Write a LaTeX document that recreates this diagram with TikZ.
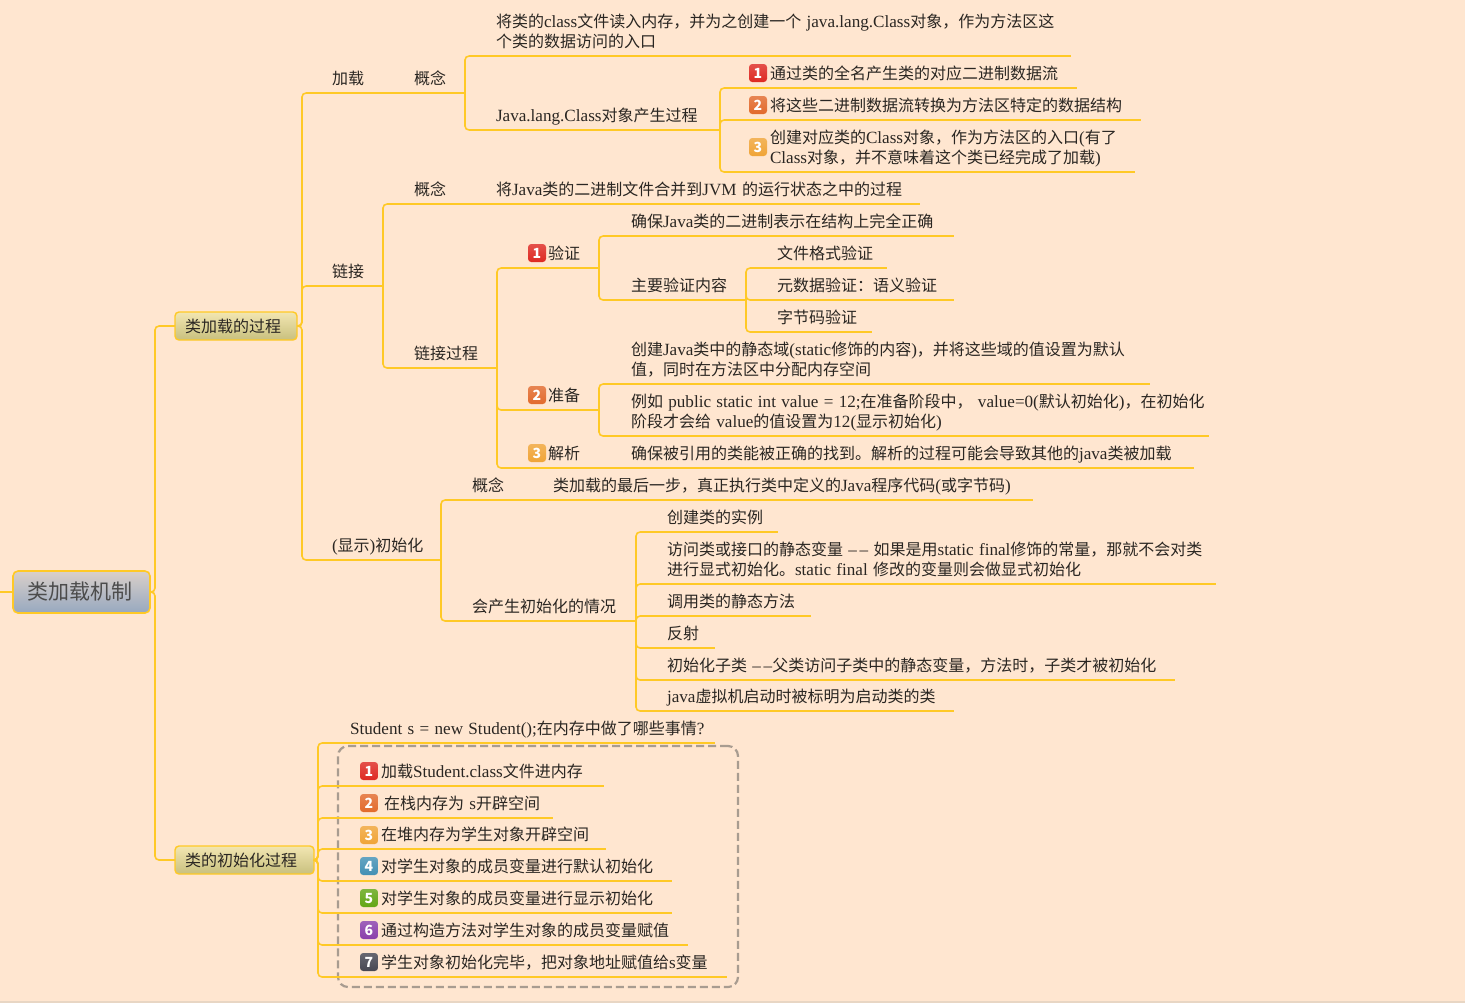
\documentclass[tikz,border=0pt]{standalone}
\usepackage{fontspec}
\setmainfont{Noto Sans CJK SC}
\newfontfamily\latinface[Scale=1.07]{Liberation Serif}
\newcommand{\lat}[1]{{\latinface #1}}
\definecolor{pagebg}{HTML}{FFE6D0}
\definecolor{pageedge}{HTML}{E8D6C4}
\definecolor{linkc}{HTML}{FFC926}
\definecolor{inkc}{HTML}{2A2622}
\definecolor{rootC}{HTML}{DAD0CA}
\definecolor{rootD}{HTML}{97A8BF}
\definecolor{branchtop}{HTML}{F2E6B2}
\definecolor{branchbot}{HTML}{C8C07E}
\definecolor{groupc}{HTML}{A89C90}
\definecolor{bda}{HTML}{DE2A22}
\definecolor{bdb}{HTML}{E26A2C}
\definecolor{bdc}{HTML}{F0A437}
\definecolor{bdd}{HTML}{4390B4}
\definecolor{bde}{HTML}{62A615}
\definecolor{bdf}{HTML}{8A3FAB}
\definecolor{bdg}{HTML}{474752}

\tikzset{
  link/.style={draw=linkc,line width=0.8pt,rounded corners=2pt},
  topic/.style={anchor=south west,inner sep=0pt,outer sep=0pt,align=left,text depth=4.3pt,text=inkc,
    font=\fontsize{8}{10.1}\selectfont},
  twoline/.style={text depth=14.4pt},
  branch/.style={draw=linkc,line width=0.7pt,rounded corners=2pt,top color=branchtop,bottom color=branchbot,
    anchor=west,outer sep=0pt,minimum height=14pt,inner sep=0pt,text=inkc,font=\fontsize{8}{10}\selectfont},
  badge/.style={rounded corners=1.6pt,minimum size=9pt,inner sep=0pt,text=white,
    top color=#1!82!white,bottom color=#1,font=\fontsize{7}{7}\selectfont\bfseries},
  groupbox/.style={draw=groupc,line width=1.1pt,dash pattern=on 4pt off 2pt,rounded corners=5pt,outer sep=0pt}
}

% underlined topic: name, left x, right x, line y, text x, text
\newcommand{\topicnode}[7][]{%
  \pgfmathsetmacro\topicw{(#4-#3)/2}\pgfmathsetmacro\topicp{(#6-#3)/2}%
  \node[topic,#1,text width=\topicw pt] (#2) at (#3,#5) {\leftskip=\topicp pt\relax\rightskip=-40pt plus 1fil\relax #7\par};
  \draw[link] (#2.south west) -- (#2.south east);}
% numbered square: name, left x, centre y, number, colour
\newcommand{\badgenode}[5]{\node[badge=#5] (#1) at (#2+9,#3) {#4};}

\begin{document}
\begin{tikzpicture}[x=0.5pt,y=-0.5pt]
  \fill[pagebg] (0,0) rectangle (1465,1003);
  \fill[pageedge] (0,1001) rectangle (1465,1003);
  \useasboundingbox (0,0) rectangle (1465,1003);

  % root and its two branches
  \node[draw=linkc,line width=0.8pt,rounded corners=2.5pt,top color=rootC,bottom color=rootD,outer sep=0pt,minimum width=68.5pt,minimum height=21pt,inner sep=0pt,text=black!70,font=\fontsize{10.5}{12}\selectfont] (root) at (81.5,592) {类加载机制\hspace*{2pt}};
  \coordinate (rootin) at (0,592);
  \node[branch,text width=61pt,align=left] (process) at (175,326) {\hspace*{5pt}类加载的过程};
  \node[branch,text width=69.5pt,align=left] (initproc) at (175,860) {\hspace*{5pt}类的初始化过程};
  \draw[link] (rootin) -- (root);
  \draw[link] (root.east) -- ++(5,0) |- (process.west);
  \draw[link] (root.east) -- ++(5,0) |- (initproc.west);

  % loading
  \topicnode{load}{306}{383}{93}{332}{加载}
  \topicnode{loadidea}{384}{465}{93}{414}{概念}
  \topicnode[twoline]{loaddesc}{469}{1071}{56}{496}{将类的\lat{class}文件读入内存，并为之创建一个 \lat{java.lang.Class}对象，作为方法区这\\个类的数据访问的入口}
  \topicnode{loadstep}{469}{720}{130}{496}{\lat{Java.lang.Class}对象产生过程}
  \topicnode{stepa}{724}{1077}{88}{770}{通过类的全名产生类的对应二进制数据流}
  \topicnode{stepb}{724}{1141}{120}{770}{将这些二进制数据流转换为方法区特定的数据结构}
  \topicnode[twoline]{stepc}{724}{1135}{172}{770}{创建对应类的\lat{Class}对象，作为方法区的入口\lat{(}有了\\\lat{Class}对象，并不意味着这个类已经完成了加载\lat{)}}
  \badgenode{bstepa}{749}{73}{1}{bda}
  \badgenode{bstepb}{749}{105}{2}{bdb}
  \badgenode{bstepc}{749}{147}{3}{bdc}
  \draw[link] (process.east) -- ++(5,0) |- (load.south west);
  \draw[link] (load.south east) -- (loadidea.south west);
  \draw[link] (loadidea.south east) |- (loaddesc.south west);
  \draw[link] (loadidea.south east) |- (loadstep.south west);
  \draw[link] (loadstep.south east) |- (stepa.south west);
  \draw[link] (loadstep.south east) |- (stepb.south west);
  \draw[link] (loadstep.south east) |- (stepc.south west);

  % linking
  \topicnode{linkt}{306}{383}{286}{332}{链接}
  \topicnode{linkidea}{387}{465}{204}{414}{概念}
  \topicnode{linkdesc}{466}{920}{204}{496}{将\lat{Java}类的二进制文件合并到\lat{JVM} 的运行状态之中的过程}
  \topicnode{linkflow}{387}{497}{368}{414}{链接过程}
  \topicnode{verify}{501}{599}{268}{548}{验证}
  \topicnode{verifya}{603}{954}{236}{631}{确保\lat{Java}类的二进制表示在结构上完全正确}
  \topicnode{verifyb}{603}{746}{300}{631}{主要验证内容}
  \topicnode{checka}{750}{887}{268}{777}{文件格式验证}
  \topicnode{checkb}{750}{954}{300}{777}{元数据验证：语义验证}
  \topicnode{checkc}{750}{872}{332}{777}{字节码验证}
  \topicnode{prepare}{501}{599}{410}{548}{准备}
  \topicnode[twoline]{preparea}{603}{1150}{384}{631}{创建\lat{Java}类中的静态域\lat{(static}修饰的内容\lat{)}，并将这些域的值设置为默认\\值，同时在方法区中分配内存空间}
  \topicnode[twoline]{prepareb}{603}{1209}{436}{631}{例如 \lat{public static int value = 12;}在准备阶段中， \lat{value=0(}默认初始化\lat{)}，在初始化\\阶段才会给 \lat{value}的值设置为\lat{12(}显示初始化\lat{)}}
  \topicnode{resolve}{501}{599}{468}{548}{解析}
  \topicnode{resolvea}{600}{1194}{468}{631}{确保被引用的类能被正确的找到。解析的过程可能会导致其他的\lat{java}类被加载}
  \badgenode{bverify}{528}{253}{1}{bda}
  \badgenode{bprepare}{528}{395}{2}{bdb}
  \badgenode{bresolve}{528}{453}{3}{bdc}
  \draw[link] (process.east) -- ++(5,0) |- (linkt.south west);
  \draw[link] (linkt.south east) |- (linkidea.south west);
  \draw[link] (linkt.south east) |- (linkflow.south west);
  \draw[link] (linkidea.south east) -- (linkdesc.south west);
  \draw[link] (linkflow.south east) |- (verify.south west);
  \draw[link] (linkflow.south east) |- (prepare.south west);
  \draw[link] (linkflow.south east) |- (resolve.south west);
  \draw[link] (verify.south east) |- (verifya.south west);
  \draw[link] (verify.south east) |- (verifyb.south west);
  \draw[link] (verifyb.south east) |- (checka.south west);
  \draw[link] (verifyb.south east) |- (checkb.south west);
  \draw[link] (verifyb.south east) |- (checkc.south west);
  \draw[link] (prepare.south east) |- (preparea.south west);
  \draw[link] (prepare.south east) |- (prepareb.south west);
  \draw[link] (resolve.south east) -- (resolvea.south west);

  % explicit initialisation
  \topicnode{init}{306}{441}{560}{332}{\lat{(}显示\lat{)}初始化}
  \topicnode{initidea}{445}{534}{500}{472}{概念}
  \topicnode{initdesc}{535}{1033}{500}{553}{类加载的最后一步，真正执行类中定义的\lat{Java}程序代码\lat{(}或字节码\lat{)}}
  \topicnode{initcase}{445}{636}{621}{472}{会产生初始化的情况}
  \topicnode{casea}{640}{778}{532}{667}{创建类的实例}
  \topicnode[twoline]{caseb}{640}{1216}{584}{667}{访问类或接口的静态变量 \lat{–\,–} 如果是用\lat{static final}修饰的常量，那就不会对类\\进行显式初始化。\lat{static final} 修改的变量则会做显式初始化}
  \topicnode{casec}{640}{811}{616}{667}{调用类的静态方法}
  \topicnode{cased}{640}{715}{648}{667}{反射}
  \topicnode{casee}{640}{1175}{680}{667}{初始化子类 \lat{–\,–}父类访问子类中的静态变量，方法时，子类才被初始化}
  \topicnode{casef}{640}{954}{711}{667}{\lat{java}虚拟机启动时被标明为启动类的类}
  \draw[link] (process.east) -- ++(5,0) |- (init.south west);
  \draw[link] (init.south east) |- (initidea.south west);
  \draw[link] (init.south east) |- (initcase.south west);
  \draw[link] (initidea.south east) -- (initdesc.south west);
  \foreach \casename in {casea,caseb,casec,cased,casee,casef}
    \draw[link] (initcase.south east) |- (\casename.south west);

  % what happens for one new object
  \node[groupbox,minimum width=200pt,minimum height=120.5pt,anchor=north west] (group) at (338,746) {};
  \topicnode{newobj}{322}{715}{743}{350}{\lat{Student s = new Student();}在内存中做了哪些事情\lat{?}}
  \topicnode{newa}{322}{604}{786}{381}{加载\lat{Student.class}文件进内存}
  \topicnode{newb}{322}{553}{818}{384}{在栈内存为 \lat{s}开辟空间}
  \topicnode{newc}{322}{606}{849}{381}{在堆内存为学生对象开辟空间}
  \topicnode{newd}{322}{672}{881}{381}{对学生对象的成员变量进行默认初始化}
  \topicnode{newe}{322}{672}{913}{381}{对学生对象的成员变量进行显示初始化}
  \topicnode{newf}{322}{688}{945}{381}{通过构造方法对学生对象的成员变量赋值}
  \topicnode{newg}{322}{727}{977}{381}{学生对象初始化完毕，把对象地址赋值给\lat{s}变量}
  \badgenode{bnewa}{360}{771}{1}{bda}
  \badgenode{bnewb}{360}{803}{2}{bdb}
  \badgenode{bnewc}{360}{835}{3}{bdc}
  \badgenode{bnewd}{360}{866}{4}{bdd}
  \badgenode{bnewe}{360}{898}{5}{bde}
  \badgenode{bnewf}{360}{930}{6}{bdf}
  \badgenode{bnewg}{360}{962}{7}{bdg}
  \foreach \stepname in {newobj,newa,newb,newc,newd,newe,newf,newg}
    \draw[link] (initproc.east) -- ++(4,0) |- (\stepname.south west);
\end{tikzpicture}
\end{document}
